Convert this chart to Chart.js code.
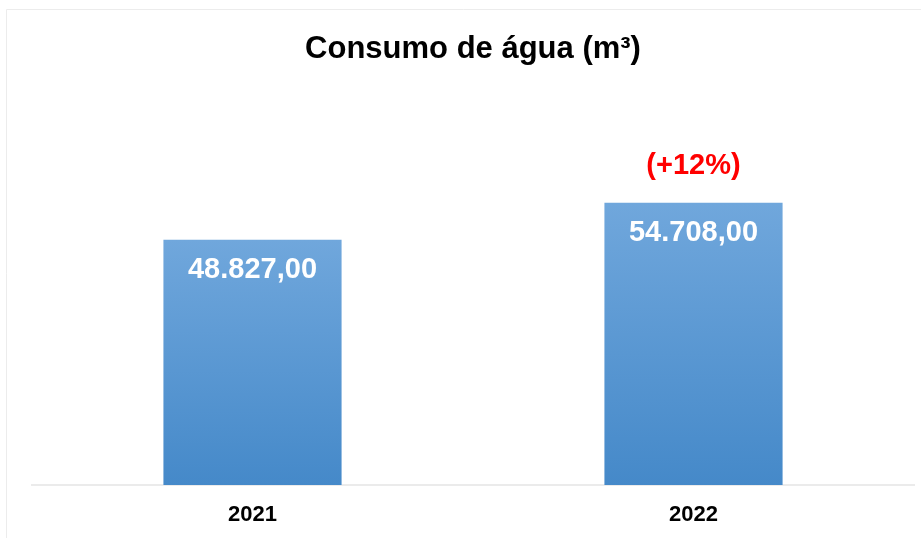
<!DOCTYPE html>
<html>
<head>
<meta charset="utf-8">
<script src="https://cdn.jsdelivr.net/npm/chart.js@4/dist/chart.umd.min.js"></script>
<style>
  html, body { margin: 0; padding: 0; background: #fff; }
  #wrap { width: 921px; height: 538px; position: relative; }
</style>
</head>
<body>
<div id="wrap"><canvas id="c"></canvas></div>
<script>
// data
const years = ['2021', '2022']
const consumo = [48827, 54708]
const variacao = ['', '(+12%)']

const FONT = 'Arial, "Liberation Sans", Helvetica, sans-serif'
const TOP_BLUE = '#70a7dc'
const BOTTOM_BLUE = '#4589c9'

// 48827 -> "48.827,00"
function fmt(v) {
  const [int, dec] = v.toFixed(2).split('.')
  return int.replace(/\B(?=(\d{3})+(?!\d))/g, '.') + ',' + dec
}

// per-bar vertical gradient, like the Excel fill
function barFill(ctx) {
  const chart = ctx.chart
  const y = chart.scales.y
  if (!chart.chartArea || !y) return BOTTOM_BLUE
  const top = y.getPixelForValue(consumo[ctx.dataIndex])
  const bottom = y.getPixelForValue(y.min)
  const g = chart.ctx.createLinearGradient(0, top, 0, bottom)
  g.addColorStop(0, TOP_BLUE)
  g.addColorStop(1, BOTTOM_BLUE)
  return g
}

// faint frame at the top / left edge
const frame = {
  id: 'frame',
  beforeDraw(chart) {
    const c = chart.ctx
    c.save()
    c.fillStyle = '#fff'
    c.fillRect(0, 0, chart.width, chart.height)
    c.strokeStyle = '#ececec'
    c.lineWidth = 1
    c.beginPath()
    c.moveTo(6.5, chart.height)
    c.lineTo(6.5, 9.5)
    c.lineTo(chart.width, 9.5)
    c.stroke()
    c.restore()
  }
}

// value inside each bar, change label above
const barLabels = {
  id: 'barLabels',
  afterDatasetsDraw(chart) {
    const c = chart.ctx
    const meta = chart.getDatasetMeta(0)
    c.save()
    c.textAlign = 'center'
    c.textBaseline = 'middle'
    meta.data.forEach((bar, i) => {
      c.font = 'bold 29px ' + FONT
      c.fillStyle = '#ffffff'
      c.fillText(fmt(consumo[i]), bar.x, bar.y + 30)
      if (variacao[i]) {
        c.fillStyle = '#ff0000'
        c.fillText(variacao[i], bar.x, bar.y - 37)
      }
    })
    c.restore()
  }
}

new Chart(document.getElementById('c'), {
  type: 'bar',
  data: {
    labels: years,
    datasets: [{
      data: consumo,
      backgroundColor: barFill,
      borderWidth: 0,
      barPercentage: 0.404,
      categoryPercentage: 1
    }]
  },
  options: {
    responsive: true,
    maintainAspectRatio: false,
    animation: false,
    layout: { padding: { left: 32, right: 7, top: 0, bottom: 0 } },
    plugins: {
      legend: { display: false },
      tooltip: { enabled: false },
      title: {
        display: true,
        text: 'Consumo de água (m³)',
        color: '#000',
        font: { family: FONT, size: 31, weight: 'bold' },
        padding: { top: 31, bottom: 38 }
      }
    },
    scales: {
      x: {
        grid: { display: false, drawTicks: false },
        border: { display: true, color: '#ebebeb', width: 2 },
        ticks: { color: '#000', font: { family: FONT, size: 22, weight: 'bold' }, padding: 17 },
        afterFit(scale) { scale.height = 53 }
      },
      y: {
        display: false,
        min: 10000,
        max: 70000
      }
    }
  },
  plugins: [frame, barLabels]
})
</script>
</body>
</html>
